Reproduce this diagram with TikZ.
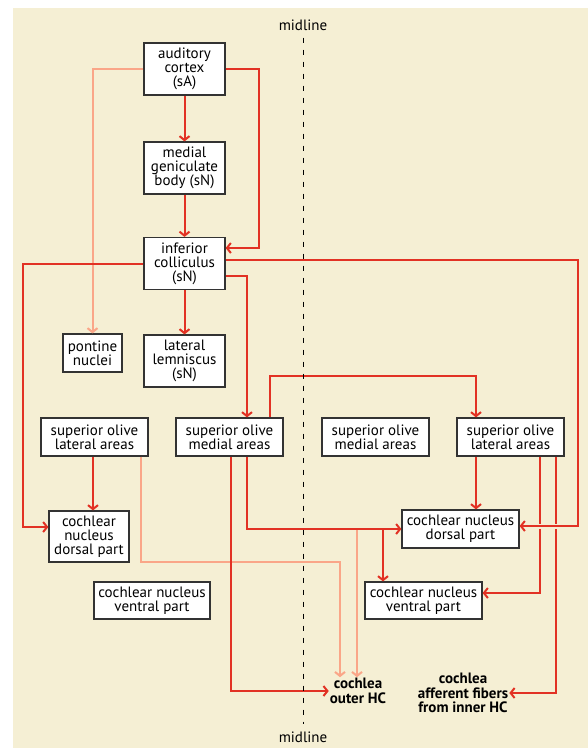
\documentclass[tikz,border=0pt]{standalone}
\usepackage{fontspec}
\setmainfont{PT Sans}
\usetikzlibrary{positioning,arrows.meta}
\definecolor{paper}{RGB}{245,239,212}
\definecolor{tract}{RGB}{226,50,36}
\definecolor{faint}{RGB}{250,166,136}

\begin{document}
\begin{tikzpicture}[x=1pt,y=-1pt,
		nbox/.style={draw=black!80,fill=white,line width=1.2pt,align=center,inner sep=1pt,font=\fontsize{15}{14}\selectfont},
		tall/.style={minimum width=81pt,minimum height=52pt},
		wide/.style={minimum width=107pt,minimum height=38pt},
		rarr/.style={draw=tract,line width=2pt,-{Straight Barb[length=4pt,width=10pt]}},
		larr/.style={draw=faint,line width=2pt,-{Straight Barb[length=4pt,width=10pt]}},
		clabel/.style={align=center,inner sep=1pt,font=\fontsize{15}{14.5}\selectfont\bfseries},
		mlabel/.style={inner sep=1pt,font=\fontsize{15}{14}\selectfont}]
		\useasboundingbox (0,0) rectangle (588,748);
		\fill[paper] (13,8) rectangle (588,748);
		% brain stem boxes
		\node[nbox,tall] (ac) at (184.5,69) {auditory\\cortex\\(sA)};
		\node[nbox,tall] (mgb) at (184.5,168) {medial\\geniculate\\body (sN)};
		\node[nbox,tall] (ic) at (184.5,263.5) {inferior\\colliculus\\(sN)};
		\node[nbox,minimum width=59pt,minimum height=38pt] (pn) at (92.5,353) {pontine\\nuclei};
		\node[nbox,tall] (ll) at (184.5,361) {lateral\\lemniscus\\(sN)};
		\node[nbox,wide] (solL) at (94.5,437) {superior olive\\lateral areas};
		\node[nbox,wide] (somL) at (229.5,437) {superior olive\\medial areas};
		\node[nbox,wide] (somR) at (375.5,437) {superior olive\\medial areas};
		\node[nbox,wide] (solR) at (510.5,437) {superior olive\\lateral areas};
		\node[nbox,minimum width=80pt,minimum height=51pt] (cndL) at (89,536.5) {cochlear\\nucleus\\dorsal part};
		\node[nbox,minimum width=116pt,minimum height=37pt] (cnvL) at (152,600.5) {cochlear nucleus\\ventral part};
		\node[nbox,minimum width=117pt,minimum height=38pt] (cndR) at (460.5,529) {cochlear nucleus\\dorsal part};
		\node[nbox,minimum width=117pt,minimum height=37pt] (cnvR) at (423.5,600.5) {cochlear nucleus\\ventral part};
		\node[clabel] (ohc) at (358,691) {cochlea\\outer HC};
		\node[clabel] (ihc) at (463,693) {cochlea\\afferent fibers\\from inner HC};
		\node[mlabel] (mtop) at (303,25) {midline};
		\node[mlabel] (mbot) at (303,737) {midline};
		% pale tracts
		\draw[larr] (ac.west) -| (pn.north);
		\draw[larr] ([xshift=46.5pt]solL.south) -- ++(0,105) -| ([xshift=-18pt]ohc.north);
		\draw[larr] ([xshift=-1pt]ohc.north |- cndR.west) -- ([xshift=-1pt]ohc.north);
		% red tracts
		\draw[rarr] (ac) -- (mgb);
		\draw[rarr] (mgb) -- (ic);
		\draw[rarr] (ac.east) -- ++(33,0) |- (ic.east |- 0,248);
		\draw[rarr] (ic) -- (ll);
		\draw[rarr] (ic.west) -- ++(-120,0) |- (cndL.west |- 0,527);
		\draw[rarr] (ic.east |- 0,276) -| ([xshift=17.5pt]somL.north);
		\draw[rarr] ([xshift=40pt]somL.north) -- ++(0,-41) -| ([xshift=-34.5pt]solR.north);
		\draw[rarr] (solL.south -| 93,0) -- (cndL.north -| 93,0);
		\draw[rarr] ([xshift=17.5pt]somL.south) |- (cndR.west);
		\draw[rarr] ([xshift=-40.5pt]cnvR.north |- cndR.west) -- ([xshift=-40.5pt]cnvR.north);
		\draw[rarr] ([xshift=1.5pt]somL.south) |- (ohc.west);
		\draw[rarr] ([xshift=-34.5pt]solR.south) -- ([xshift=-34.5pt]solR.south |- cndR.north);
		\draw[rarr] ([xshift=29.5pt]solR.south) |- ([yshift=7.5pt]cnvR.east);
		\draw[rarr] ([xshift=45.5pt]solR.south) |- (ihc.east);
		\draw[rarr,preaction={draw=paper,line width=5pt,-}] (ic.east |- 0,260) -- ++(352,0) |- (cndR.east |- 0,526);
		% midline
		\draw[line width=1pt,dash pattern=on 5pt off 7pt,shorten <=6pt,shorten >=6pt] (mtop.south) -- (mbot.north);
	\end{tikzpicture}
\end{document}
